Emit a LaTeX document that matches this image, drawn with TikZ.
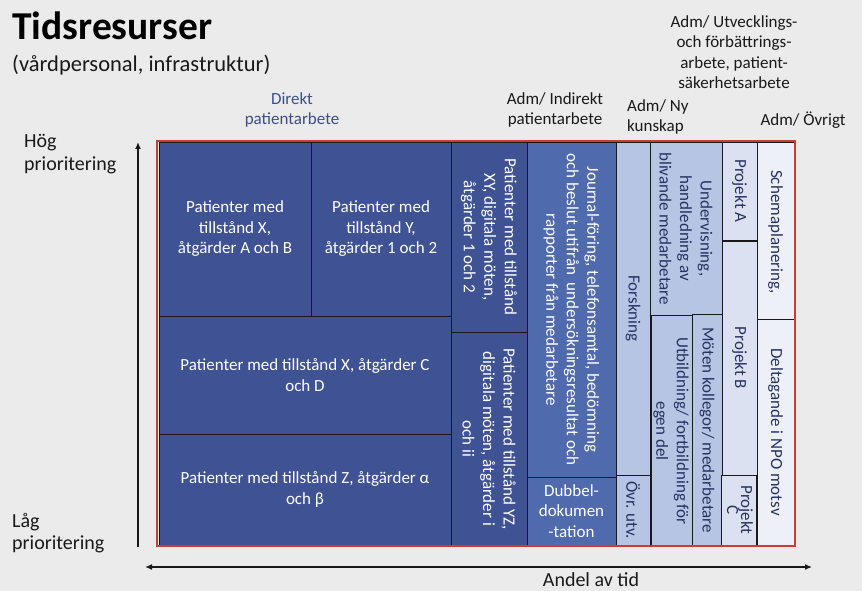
\documentclass[tikz,border=0pt]{standalone}
\usepackage{fontspec}
\setmainfont{Carlito}
\usetikzlibrary{arrows.meta}
\definecolor{bg}{RGB}{235,235,235}
\definecolor{dk}{RGB}{63,82,148}
\definecolor{md}{RGB}{80,106,174}
\definecolor{lt}{RGB}{182,197,227}
\definecolor{ltb}{RGB}{219,225,240}
\definecolor{ltc}{RGB}{238,240,248}
\definecolor{navy}{RGB}{38,50,98}
\definecolor{hdr}{RGB}{62,78,136}
\definecolor{redframe}{RGB}{198,64,48}
\definecolor{ink}{RGB}{25,25,25}
\begin{document}
\begin{tikzpicture}[x=1pt,y=-1pt,
  cell/.style={draw=ink,line width=0.9pt},
  txt/.style={inner sep=0pt,align=center,font=\fontsize{17}{20.5}\selectfont},
  wtxt/.style={txt,text=white},
  ntxt/.style={txt,text=navy},
  vert/.style={rotate=-90},
  lbl/.style={txt,text=ink},
  axis/.style={line width=1.3pt,ink},
  tip/.style={-{Latex[length=7pt,width=6pt]}}]
\useasboundingbox (0,0) rectangle (862,591);
\fill[bg] (0,0) rectangle (862,591);

% title
\node[inner sep=0pt,anchor=base west,font=\fontsize{39.5}{44}\selectfont\bfseries,text=black] (title) at (12,40) {Tidsresurser};
\node[inner sep=0pt,anchor=base west,font=\fontsize{22.5}{26}\selectfont,text=ink] (subtitle) at (12,72) {(vårdpersonal, infrastruktur)};

% column headers
\node[txt,text=hdr] (hdirekt) at (292,110) {Direkt\\patientarbete};
\node[lbl] (hindirekt) at (555,110) {Adm/ Indirekt\\patientarbete};
\node[lbl,align=left,anchor=west] (hny) at (627,117) {Adm/ Ny\\kunskap};
\node[lbl] (hutv) at (734,52) {Adm/ Utvecklings-\\och förbättrings-\\arbete, patient-\\säkerhetsarbete};
\node[lbl] (hovr) at (803,120) {Adm/ Övrigt};

% axis labels
\node[inner sep=0pt,align=left,anchor=west,font=\fontsize{20}{23}\selectfont,text=ink] (hog) at (24,154) {Hög\\prioritering};
\node[inner sep=0pt,align=left,anchor=west,font=\fontsize{20}{22}\selectfont,text=ink] (lag) at (12,533) {Låg\\prioritering};
\node[inner sep=0pt,font=\fontsize{20}{23}\selectfont,text=ink] (andel) at (591,580) {Andel av tid};

% boxes
\draw[cell,fill=dk] (159,142) rectangle (311,316);
\draw[cell,fill=dk] (311,142) rectangle (451,316);
\draw[cell,fill=dk] (159,316) rectangle (451,434);
\draw[cell,fill=dk] (159,434) rectangle (451,545);
\draw[cell,fill=dk] (451,142) rectangle (527,332);
\draw[cell,fill=dk] (451,332) rectangle (527,545);
\draw[cell,fill=md] (527,142) rectangle (616,477);
\draw[cell,fill=md] (527,477) rectangle (616,545);
\draw[cell,fill=lt] (616,142) rectangle (650,475);
\draw[cell,fill=lt] (616,475) rectangle (650,546);
\draw[cell,fill=lt] (650,142) rectangle (722,315);
\draw[cell,fill=lt] (651,315) rectangle (692,546);
\draw[cell,fill=lt] (692,314) rectangle (722,546);
\draw[cell,fill=ltb] (722,142) rectangle (757,240);
\draw[cell,fill=ltb] (722,241) rectangle (757,475);
\draw[cell,fill=ltb] (721,475) rectangle (756,546);
\draw[cell,fill=ltc] (757,142) rectangle (794,319);
\draw[cell,fill=ltc] (757,319) rectangle (794,545);

% box texts
\node[wtxt] (ab) at (235,229) {Patienter med\\tillstånd X,\\åtgärder A och B};
\node[wtxt] (y12) at (381,229) {Patienter med\\tillstånd Y,\\åtgärder 1 och 2};
\node[wtxt] (cd) at (305,375) {Patienter med tillstånd X, åtgärder C\\och D};
\node[wtxt] (z) at (305,489.5) {Patienter med tillstånd Z, åtgärder α\\och β};
\node[wtxt,vert] (xy) at (489,237) {Patienter med tillstånd\\XY, digitala möten,\\åtgärder 1 och 2};
\node[wtxt,vert] (yz) at (489,439) {Patienter med tillstånd YZ,\\digitala möten, åtgärder i\\och ii};
\node[wtxt,vert] (jour) at (571.5,309.5) {Journal-föring, telefonsamtal, bedömning\\och beslut utifrån\ \ undersökningsresultat och\\rapporter från medarbetare};
\node[wtxt] (dub) at (571.5,511) {Dubbel-\\dokumen\\-tation};
\node[ntxt,vert] (fors) at (633,308.5) {Forskning};
\node[ntxt,vert] (ovr) at (633,510) {Övr. utv.};
\node[ntxt,vert] (und) at (686,228.5) {Undervisning,\\handledning av\\blivande medarbetare};
\node[ntxt,vert] (utb) at (671,431) {Utbildning/ fortbildning för\\egen del};
\node[ntxt,vert] (mot) at (707,430) {Möten kollegor/ medarbetare};
\node[ntxt,vert] (pa) at (739.5,191) {Projekt A};
\node[ntxt,vert] (pb) at (739.5,358) {Projekt B};
\node[ntxt,vert,font=\fontsize{17}{14}\selectfont] (pc) at (740,510) {Projekt\\C};
\node[ntxt,vert] (sch) at (775.5,232) {Schemaplanering,};
\node[ntxt,vert] (del) at (775.5,432) {Deltagande i NPO motsv};

% red frame
\draw[redframe,line width=2.6pt] (157,141) rectangle (795,546);

% axes
\coordinate (vlo) at (138,547);
\coordinate (vhi) at (138,142);
\coordinate (hl) at (145,567);
\coordinate (hr) at (812,567);
\draw[axis,tip] (vlo) -- (vhi);
\draw[axis,{Latex[length=7pt,width=6pt]}-{Latex[length=7pt,width=6pt]}] (hl) -- (hr);
\end{tikzpicture}
\end{document}
